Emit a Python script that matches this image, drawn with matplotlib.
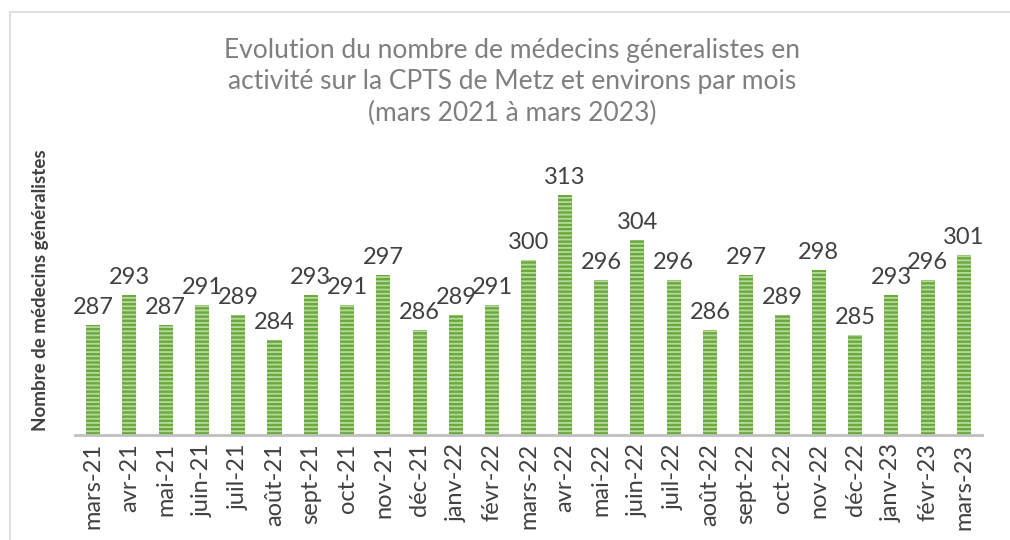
import matplotlib
matplotlib.use("Agg")
import matplotlib.pyplot as plt
from matplotlib.patches import Rectangle

months = ["mars-21", "avr-21", "mai-21", "juin-21", "juil-21", "août-21", "sept-21",
          "oct-21", "nov-21", "déc-21", "janv-22", "févr-22", "mars-22", "avr-22",
          "mai-22", "juin-22", "juil-22", "août-22", "sept-22", "oct-22", "nov-22",
          "déc-22", "janv-23", "févr-23", "mars-23"]
values = [287, 293, 287, 291, 289, 284, 293, 291, 297, 286, 289, 291, 300, 313,
          296, 304, 296, 286, 297, 289, 298, 285, 293, 296, 301]

title = ("Evolution du nombre de médecins géneralistes en\n"
         "activité sur la CPTS de Metz et environs par mois\n"
         "(mars 2021 à mars 2023)")
ylabel = "Nombre de médecins généralistes"

plt.rcParams['font.family'] = ['Lato', 'DejaVu Sans']
plt.rcParams['hatch.linewidth'] = 1.3

fig = plt.figure(figsize=(10.1, 5.4), dpi=100)
fig.patches.append(Rectangle((10 / 1010, -0.01), 1.0, 1 - 12 / 540 + 0.01,
                             transform=fig.transFigure, fill=False,
                             edgecolor="#d9d9d9", linewidth=1.2))

ax = fig.add_axes([75 / 1010, 1 - 435 / 540, 907 / 1010, (435 - 160) / 540])
x = list(range(len(months)))
bars = ax.bar(x, values, width=0.39, bottom=0, color="#6aa93c",
              edgecolor="#b5d99c", linewidth=0, hatch="----")
for xi, v in zip(x, values):
    ax.annotate(str(v), (xi, v), xytext=(0, 5), textcoords="offset points",
                ha="center", va="bottom", fontsize=17, color="#404040")

ax.set_ylim(265, 320)
ax.set_xlim(-0.5, len(months) - 0.5)
ax.set_yticks([])
ax.set_xticks(x)
ax.set_xticklabels(months, rotation=90, fontsize=17, color="#404040")
ax.tick_params(axis="x", length=0, pad=6)
for s in ["top", "right", "left"]:
    ax.spines[s].set_visible(False)
ax.spines["bottom"].set_color("#bfbfbf")
ax.spines["bottom"].set_linewidth(2)

fig.text(41 / 1010, 1 - 290 / 540, ylabel, rotation=90, ha="center", va="center",
         fontsize=13.5, fontweight="bold", color="#404040")
fig.text(512 / 1010, 1 - 82 / 540, title, ha="center", va="center",
         fontsize=19, color="#7f7f7f", linespacing=1.3)

fig.savefig("out.png", dpi=100)
